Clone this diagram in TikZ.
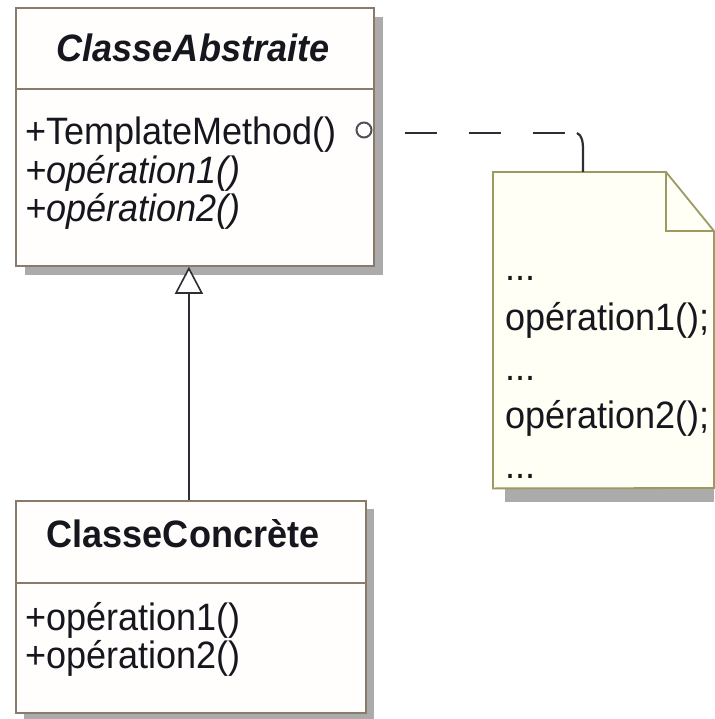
\documentclass[tikz,border=0pt]{standalone}
\usepackage{fontspec}
\setmainfont{Liberation Sans}
\usetikzlibrary{arrows.meta,calc}
\definecolor{clsborder}{HTML}{8A7A6C}
\definecolor{clsfill}{HTML}{FFFEFC}
\definecolor{shadowc}{HTML}{ABABAB}
\definecolor{noteborder}{HTML}{9C9A62}
\definecolor{notefill}{HTML}{FFFFF6}
\definecolor{txt}{HTML}{16161E}
\newcommand{\stxt}[1]{\scalebox{1.03}[1.09]{#1}}
\tikzset{
  classbox/.style={draw=clsborder, fill=clsfill, line width=1.8pt, inner sep=0pt, anchor=north west},
  shadowbox/.style={fill=shadowc, draw=none},
  memb/.style={anchor=base west, inner sep=0pt, text=txt, font=\fontsize{35}{38}\selectfont},
  ttl/.style={anchor=base, inner sep=0pt, text=txt, font=\fontsize{35}{38}\selectfont\bfseries},
  notetxt/.style={anchor=base west, inner sep=0pt, text=txt, font=\fontsize{35}{38}\selectfont},
  conn/.style={draw=txt!90, line width=1.7pt},
}
\begin{document}
\begin{tikzpicture}[x=1pt,y=-1pt]
\useasboundingbox[fill=white] (0,0) rectangle (714,719);
% --- ClasseAbstraite
\fill[shadowbox] (25,17) rectangle (383,275);
\node[classbox, minimum width=358pt, minimum height=258pt] (abs) at (15,7) {};
\draw[clsborder, line width=1.8pt] (abs.west |- 0,89) -- (abs.east |- 0,89);
\node[ttl, font=\fontsize{35}{38}\selectfont\bfseries\itshape] (absname) at (193,62) {\stxt{ClasseAbstraite}};
\node[memb] (m1) at (25,145) {\stxt{+TemplateMethod()}};
\node[memb, font=\fontsize{35}{38}\selectfont\itshape] (m2) at (25,184) {\stxt{+opération1()}};
\node[memb, font=\fontsize{35}{38}\selectfont\itshape] (m3) at (25,222) {\stxt{+opération2()}};
% --- ClasseConcrète
\fill[shadowbox] (24,509) rectangle (374,719);
\node[classbox, minimum width=350pt, minimum height=212pt] (conc) at (15,500) {};
\draw[clsborder, line width=1.8pt] (conc.west |- 0,583) -- (conc.east |- 0,583);
\node[ttl] (concname) at (183,547) {\stxt{ClasseConcrète}};
\node[memb] (c1) at (25,630) {\stxt{+opération1()}};
\node[memb] (c2) at (25,668) {\stxt{+opération2()}};
% --- generalization
\draw[conn, -{Triangle[open, length=27pt, width=28pt, line width=1.6pt, fill=white]}]
  ($(conc.north)+(-2,0)$) -- ($(conc.north |- abs.south)+(-2,0)$);
% --- note
\node[inner sep=0pt, minimum width=221pt, minimum height=316pt, anchor=north west] (note) at (493,172) {};
\fill[shadowbox] (505,488) rectangle (714,502);
\draw[noteborder, fill=notefill, line width=1.8pt]
  (note.north west) -- (666,172) -- (714,231) -- (714,488) -- (note.south west) -- cycle;
\draw[noteborder, line width=1.8pt] (666,172) -- (666,231) -- (714,231);
\node[notetxt] (n1) at (505,280) {\stxt{...}};
\node[notetxt] (n2) at (505,330) {\stxt{opération1();}};
\node[notetxt] (n3) at (505,380) {\stxt{...}};
\node[notetxt] (n4) at (505,428) {\stxt{opération2();}};
\node[notetxt] (n5) at (505,478) {\stxt{...}};
% --- note connector
\node[circle, draw=txt!75, line width=2pt, minimum size=15pt, inner sep=0pt, fill=white] (anc) at (364,130) {};
\coordinate (bend) at (577,133);
\draw[conn, line width=2.2pt, dash pattern=on 32pt off 32pt, dash phase=32pt] (anc.east |- 0,133) -- (bend);
\draw[conn, line width=2.2pt] (bend) .. controls (582,135) and (583,142) .. (583,150) -- (note.north -| 583,0);
\end{tikzpicture}
\end{document}
